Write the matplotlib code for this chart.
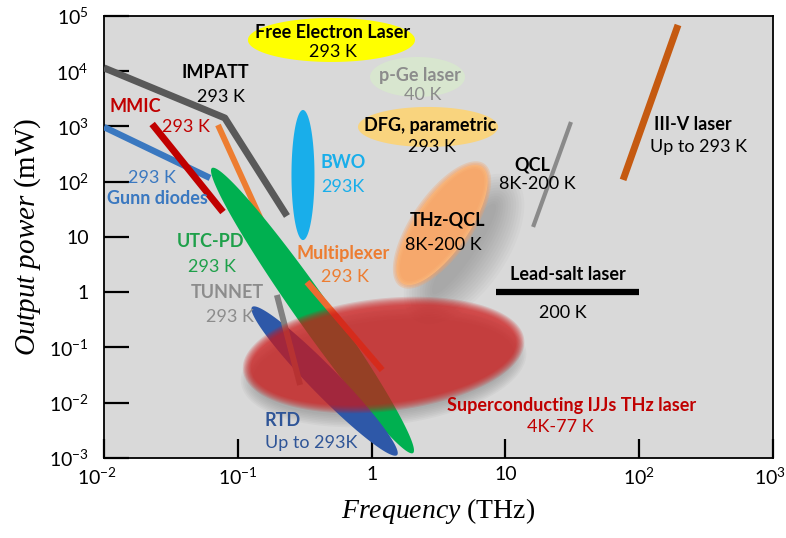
import matplotlib
matplotlib.use("Agg")
import matplotlib.pyplot as plt
import matplotlib.transforms as mtransforms
import numpy as np

# sources drawn as lines: frequency (THz) and output power (mW)
impatt_f = [0.01, 0.080, 0.233]
impatt_p = [11500, 1426, 24]
gunn_f = [0.01, 0.062]
gunn_p = [977, 117]
mmic_f = [0.0229, 0.0775]
mmic_p = [1109, 28.3]
mux_hi_f = [0.0711, 0.152]
mux_hi_p = [1064, 18.7]
mux_lo_f = [0.329, 1.20]
mux_lo_p = [1.53, 0.039]
tunnet_f = [0.196, 0.292]
tunnet_p = [0.891, 0.021]
qcl_f = [30.9, 16.1]
qcl_p = [1205, 15.2]
iiiv_f = [195, 75.7]
iiiv_p = [68700, 108]
leadsalt_f = [8.5, 99.5]
leadsalt_p = [1.0, 1.0]

# sources drawn as ellipses: ends of the long axis
fel_f, fel_p = [0.119, 2.11], [36800, 36800]
pge_f, pge_p = [0.973, 4.99], [7870, 7870]
dfg_f, dfg_p = [0.791, 8.81], [980, 980]
bwo_f, bwo_p = [0.307, 0.307], [1990, 8.8]
utc_f, utc_p = [0.0641, 2.04], [177, 0.00123]
rtd_f, rtd_p = [0.128, 1.55], [0.541, 0.00113]
thzqcl_f, thzqcl_p = [1.69, 6.68], [1.47, 185]
ijj_f, ijj_p = [0.117, 12.9], [0.039, 0.137]

yticks = [1e-3, 1e-2, 1e-1, 1, 10, 1e2, 1e3, 1e4, 1e5]
ytick_labels = [r"$\mathdefault{10^{-3}}$", r"$\mathdefault{10^{-2}}$", r"$\mathdefault{10^{-1}}$",
                "1", "10", r"$\mathdefault{10^{2}}$", r"$\mathdefault{10^{3}}$",
                r"$\mathdefault{10^{4}}$", r"$\mathdefault{10^{5}}$"]
xticks = [1e-2, 1e-1, 1, 10, 1e2, 1e3]
xtick_labels = [r"$\mathdefault{10^{-2}}$", r"$\mathdefault{10^{-1}}$", "1", "10",
                r"$\mathdefault{10^{2}}$", r"$\mathdefault{10^{3}}$"]

plt.rcParams["font.family"] = ["Lato", "DejaVu Sans"]
plt.rcParams["mathtext.fontset"] = "custom"
plt.rcParams["mathtext.rm"] = "Lato"
plt.rcParams["mathtext.it"] = "Liberation Serif:italic"

fig = plt.figure(figsize=(7.86, 5.38), dpi=100)
ax = fig.add_axes([0.1323, 0.1487, 0.8512, 0.8216])
ax.set_xscale("log")
ax.set_yscale("log")
ax.set_xlim(1e-2, 1e3)
ax.set_ylim(1e-3, 1e5)
ax.set_facecolor("#d9d9d9")


def blob(f, p, width, color, alpha=1.0, z=2, layers=1, spread=0.0, dx=0.0, dy=0.0):
    pts = ax.transData.transform(np.column_stack([f, p]))
    c = pts.mean(axis=0) + np.array([dx, -dy])
    v = pts[1] - pts[0]
    a = np.hypot(*v) / 2
    ang = np.arctan2(v[1], v[0])
    t = np.linspace(0, 2 * np.pi, 240)
    R = np.array([[np.cos(ang), -np.sin(ang)], [np.sin(ang), np.cos(ang)]])
    for i in range(layers):
        g = spread * (1 - 2 * i / (layers - 1)) if layers > 1 else 0.0
        e = np.vstack([(a + g) * np.cos(t), (width / 2 + g) * np.sin(t)])
        xy = (R @ e).T + c
        d = ax.transData.inverted().transform(xy)
        ax.fill(d[:, 0], d[:, 1], color=color, alpha=alpha, lw=0, zorder=z)


# top ellipses
blob(fel_f, fel_p, 44, "#ffff00", z=2)
blob(pge_f, pge_p, 40, "#d8e6cf", z=2)
blob(dfg_f, dfg_p, 40, "#f9d47e", z=2)
blob(bwo_f, bwo_p, 23, "#19aeea", z=2)

# left side lines
ax.plot(gunn_f, gunn_p, color="#3a78c0", lw=4.6, solid_capstyle="butt", zorder=3)
ax.plot(mmic_f, mmic_p, color="#c00000", lw=5, solid_capstyle="butt", zorder=3.2)
ax.plot(mux_hi_f, mux_hi_p, color="#ed7d31", lw=4.3, solid_capstyle="butt", zorder=3.3)
ax.plot(impatt_f, impatt_p, color="#595959", lw=5, solid_capstyle="butt", zorder=3.4)

blob(utc_f, utc_p, 34, "#00b050", z=4)
ax.plot(mux_lo_f, mux_lo_p, color="#ed6a31", lw=4.6, solid_capstyle="butt", zorder=4.2)
blob(rtd_f, rtd_p, 28, "#2e58a8", z=4.4)
ax.plot(tunnet_f, tunnet_p, color="#808080", lw=4.3, solid_capstyle="butt", zorder=4.6)

# THz-QCL with its shadow
blob(thzqcl_f, thzqcl_p, 53, "#7a7a7a", alpha=0.05, z=1.5, layers=12, spread=16, dx=22, dy=24)
blob(thzqcl_f, thzqcl_p, 53, "#ffe6ae", z=2.5)
blob(thzqcl_f, thzqcl_p, 53, "#f6a165", alpha=0.3, z=2.6, layers=6, spread=-4)

# superconducting IJJ ellipse with soft edge and shadow
blob(ijj_f, ijj_p, 105, "#6a6a6a", alpha=0.06, z=1.6, layers=8, spread=6, dy=12)
blob(ijj_f, ijj_p, 105, "#d01818", alpha=0.15, z=5, layers=8, spread=4)

# right side lines
ax.plot(qcl_f, qcl_p, color="#8a8a8a", lw=3, solid_capstyle="butt", zorder=3)
ax.plot(iiiv_f, iiiv_p, color="#c55a11", lw=5, solid_capstyle="butt", zorder=3)
ax.plot(leadsalt_f, leadsalt_p, color="#000000", lw=4.5, solid_capstyle="butt", zorder=3)


def label(px, py, s, color="#000000", bold=False, ha="center", size=13):
    ax.annotate(s, xy=(px / 786, 1 - py / 538), xycoords="figure fraction", ha=ha, va="center",
                color=color, fontsize=size, fontweight="bold" if bold else "normal", zorder=10)


label(333, 33, "Free Electron Laser", bold=True)
label(333, 52, "293 K")
label(420, 75, "p-Ge laser", color="#8c8c8c", bold=True)
label(423, 95, "40 K", color="#8c8c8c")
label(430, 125, "DFG, parametric", bold=True)
label(432, 147, "293 K")
label(215, 73, "IMPATT", bold=True)
label(221, 97, "293 K")
label(135, 107, "MMIC", color="#c00000", bold=True)
label(186, 127, "293 K", color="#c00000")
label(152, 178, "293 K", color="#3a78c0")
label(157, 198, "Gunn diodes", color="#3a78c0", bold=True)
label(343, 163, "BWO", color="#19aeea", bold=True)
label(343, 187, "293K", color="#19aeea")
label(211, 241, "UTC-PD", color="#1ea04a", bold=True)
label(212, 267, "293 K", color="#1ea04a")
label(343, 253, "Multiplexer", color="#ed7d31", bold=True)
label(345, 277, "293 K", color="#ed7d31")
label(227, 293, "TUNNET", color="#8c8c8c", bold=True)
label(230, 317, "293 K", color="#8c8c8c")
label(265, 420, "RTD", color="#2f5597", bold=True, ha="left")
label(265, 443, "Up to 293K", color="#2f5597", ha="left")
label(572, 405, "Superconducting IJJs THz laser", color="#c00000", bold=True)
label(560, 427, "4K-77 K", color="#c00000")
label(448, 220, "THz-QCL", bold=True)
label(443, 245, "8K-200 K")
label(532, 165, "QCL", bold=True)
label(537, 184, "8K-200 K")
label(693, 125, "III-V laser", bold=True)
label(698, 147, "Up to 293 K")
label(568, 275, "Lead-salt laser", bold=True)
label(563, 313, "200 K")

ax.set_xticks(xticks)
ax.set_xticklabels(xtick_labels)
ax.set_yticks(yticks)
ax.set_yticklabels(ytick_labels)
ax.minorticks_off()
ax.tick_params(axis="y", direction="in", length=18, width=1.6, labelsize=14, pad=11)
ax.tick_params(axis="x", direction="in", length=14, width=1.6, labelsize=14, pad=6)
for s in ax.spines.values():
    s.set_linewidth(1.3)

# keep the last x label inside the picture, as in the original
xl = ax.get_xticklabels()
xl[-1].set_horizontalalignment("right")
xl[-1].set_transform(xl[-1].get_transform() + mtransforms.ScaledTranslation(9 / 72, 0, fig.dpi_scale_trans))
xl[0].set_transform(xl[0].get_transform() + mtransforms.ScaledTranslation(-5 / 72, 0, fig.dpi_scale_trans))

ax.set_xlabel(r"$\mathit{Frequency}$ (THz)", family="Liberation Serif", fontsize=20, labelpad=6)
ax.set_ylabel(r"$\mathit{Output\ power}$ (mW)", family="Liberation Serif", fontsize=21, labelpad=4)

fig.savefig("out.png", dpi=100)
